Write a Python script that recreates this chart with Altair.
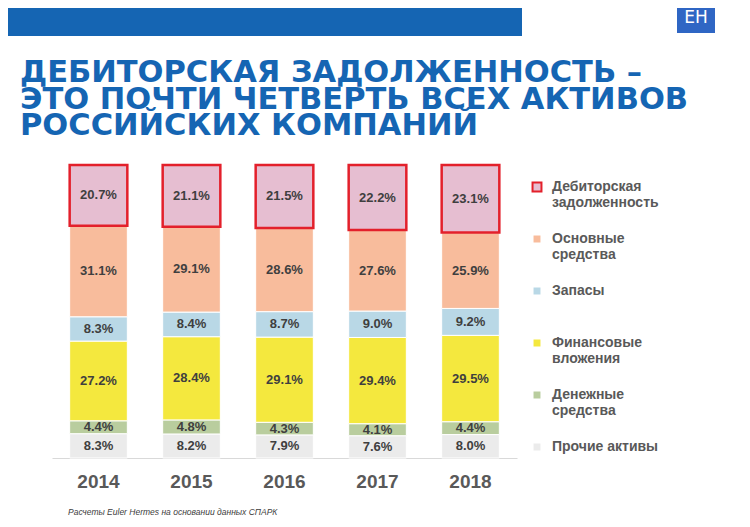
import altair as alt
import pandas as pd

years = ['2014', '2015', '2016', '2017', '2018']
# legend order, top to bottom (= stack order, top to bottom)
categories = ['Дебиторская задолженность', 'Основные средства', 'Запасы',
              'Финансовые вложения', 'Денежные средства', 'Прочие активы']
receivables = [20.7, 21.1, 21.5, 22.2, 23.1]
fixed_assets = [31.1, 29.1, 28.6, 27.6, 25.9]
inventory = [8.3, 8.4, 8.7, 9.0, 9.2]
fin_investments = [27.2, 28.4, 29.1, 29.4, 29.5]
cash = [4.4, 4.8, 4.3, 4.1, 4.4]
other = [8.3, 8.2, 7.9, 7.6, 8.0]

series = [receivables, fixed_assets, inventory, fin_investments, cash, other]
fill_colors = ['#e6bed1', '#f8bc9c', '#b9d8e6', '#f4e83e', '#b9cd9e', '#ebebeb']
stroke_colors = ['#e3202b', '#ffffff', '#ffffff', '#ffffff', '#ffffff', '#ffffff']

title_lines = ['ДЕБИТОРСКАЯ ЗАДОЛЖЕННОСТЬ –',
               'ЭТО ПОЧТИ ЧЕТВЕРТЬ ВСЕХ АКТИВОВ',
               'РОССИЙСКИХ КОМПАНИЙ']
footnote = 'Расчеты Euler Hermes на основании данных СПАРК'
logo_label = 'EH'

rows = []
n = len(categories)
for ci in reversed(range(n)):  # bottom of stack first, receivables drawn last
    for yi, yr in enumerate(years):
        rows.append({'year': yr, 'category': categories[ci],
                     'order': n - 1 - ci, 'value': series[ci][yi]})
df = pd.DataFrame(rows)

FONT = 'Liberation Sans'

legend = alt.Legend(title=None, orient='none', legendX=478, legendY=15,
                    direction='vertical', symbolType='square', symbolSize=80,
                    symbolStrokeWidth=2, labelFont=FONT, labelFontSize=14,
                    labelFontWeight='bold', labelColor='#595959',
                    labelBaseline='middle', labelOffset=8, rowPadding=20,
                    padding=0, labelLimit=300,
                    labelExpr="(datum.label == 'Запасы' || datum.label == 'Прочие активы') ? [datum.label, ''] : split(datum.label, ' ')")

base = alt.Chart(df).transform_stack(
    stack='value', groupby=['year'], as_=['y0', 'y1'], offset='normalize',
    sort=[alt.SortField('order', order='ascending')]
).transform_calculate(
    mid='(datum.y0 + datum.y1) / 2',
    label="format(datum.value, '.1f') + '%'"
)

xenc = alt.X('year:N', sort=years,
             scale=alt.Scale(paddingInner=0.38, paddingOuter=0.19),
             axis=alt.Axis(title=None, labelAngle=0, labelFont=FONT,
                           labelFontSize=19, labelFontWeight='bold',
                           labelColor='#595959', ticks=False,
                           domainColor='#d9d9d9', domainWidth=1,
                           labelPadding=14))

bars = base.mark_bar().encode(
    x=xenc,
    y=alt.Y('y0:Q', scale=alt.Scale(domain=[0, 1]), axis=None),
    y2='y1:Q',
    color=alt.Color('category:N', scale=alt.Scale(domain=categories, range=fill_colors), legend=legend),
    stroke=alt.Stroke('category:N', scale=alt.Scale(domain=categories, range=stroke_colors), legend=legend),
    strokeWidth=alt.condition(alt.datum.category == categories[0], alt.value(2.5), alt.value(1)),
    order=alt.Order('order:Q')
)

labels = base.mark_text(font=FONT, fontSize=13, fontWeight='bold', color='#3f3f3f').encode(
    x=alt.X('year:N', sort=years),
    y=alt.Y('mid:Q'),
    text='label:N'
)

deco = alt.Chart(pd.DataFrame({'k': [0]}))
banner = deco.mark_rect(color='#1565b3').encode(
    x=alt.value(-52), x2=alt.value(470), y=alt.value(-165), y2=alt.value(-129))
logo = deco.mark_rect(color='#2f66c4').encode(
    x=alt.value(625), x2=alt.value(663), y=alt.value(-163), y2=alt.value(-132))
logo_text = deco.mark_text(font='DejaVu Sans', fontSize=17, color='white').encode(
    x=alt.value(644), y=alt.value(-147), text=alt.value(logo_label))
title = deco.mark_text(font='DejaVu Sans', fontSize=30.5, fontWeight='bold', color='#1565b3',
                       align='left', baseline='top', lineHeight=26.5).encode(
    x=alt.value(-32), y=alt.value(-107), text=alt.value(title_lines))
note = deco.mark_text(font=FONT, fontSize=8.5, fontStyle='italic', color='#404040',
                      align='left').encode(
    x=alt.value(16), y=alt.value(347), text=alt.value(footnote))

chart = alt.layer(banner, logo, logo_text, title, bars, labels, note).properties(
    width=465, height=293,
    autosize=alt.AutoSizeParams(type='none'),
    padding={'left': 44, 'top': 157, 'right': 225, 'bottom': 61}
).configure_view(stroke=None)

chart.save('out.html', embed_options={'renderer': 'svg', 'actions': False})
